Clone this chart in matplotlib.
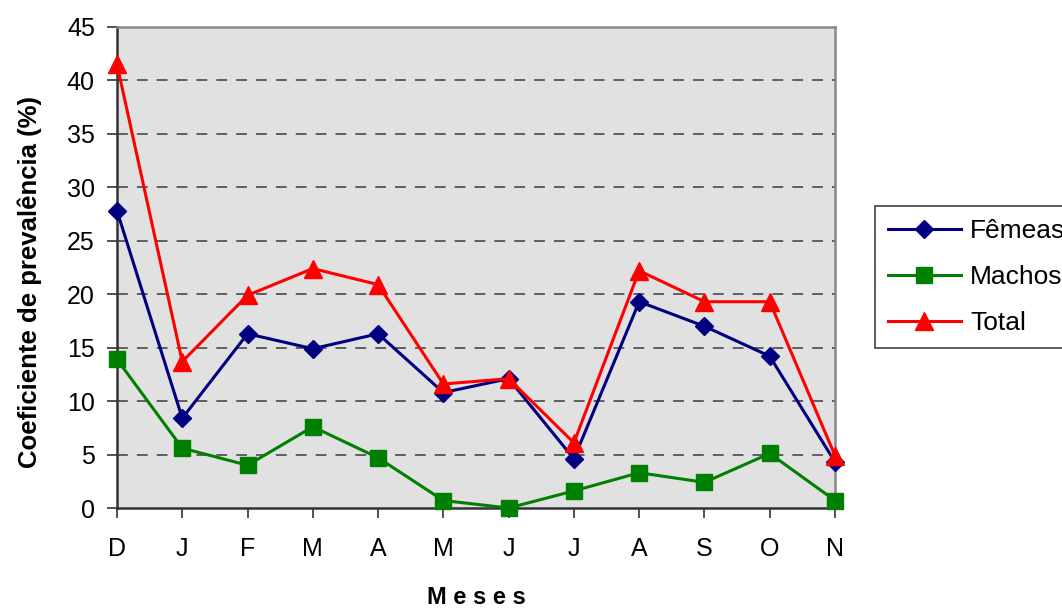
import numpy as np
import matplotlib.pyplot as plt

plt.rcParams['font.family'] = ['Liberation Sans', 'DejaVu Sans']

#%% Data

meses = ['D', 'J', 'F', 'M', 'A', 'M', 'J', 'J', 'A', 'S', 'O', 'N']
femeas = [27.8, 8.4, 16.3, 14.9, 16.3, 10.8, 12.1, 4.6, 19.3, 17.0, 14.2, 4.3]
machos = [13.9, 5.6, 4.0, 7.6, 4.7, 0.7, 0.0, 1.6, 3.3, 2.4, 5.1, 0.7]
total = [41.5, 13.7, 19.9, 22.4, 20.9, 11.6, 12.1, 6.1, 22.2, 19.3, 19.3, 4.9]

#%% Plot

x = np.arange(len(meses))

fig = plt.figure(figsize=(10.62, 6.10), dpi=100)
ax = fig.add_axes([117/1062, 1-508/610, (835-117)/1062, (508-27)/610])
ax.set_facecolor('#e1e1e1')

ax.plot(x, femeas, color='#000080', marker='D', markersize=9, lw=2.2, label='Fêmeas', clip_on=False, zorder=3)
ax.plot(x, machos, color='#008000', marker='s', markersize=11.5, lw=2.2, label='Machos', clip_on=False, zorder=3)
ax.plot(x, total, color='#ff0000', marker='^', markersize=12.5, lw=2.2, label='Total', clip_on=False, zorder=4)

ax.set_xlim(0, 11)
ax.set_ylim(0, 45)
ax.set_yticks(np.arange(0, 46, 5))
ax.set_xticks(x)
ax.set_xticklabels(meses)
ax.tick_params(axis='both', labelsize=18, direction='out', length=7, width=1.2, color='#333333')
ax.tick_params(axis='x', pad=14)
ax.tick_params(axis='y', pad=9)

for yv in range(5, 45, 5):
    ax.axhline(yv, color='#555555', lw=1.3, ls=(0, (6, 5)), zorder=1)

for s in ['top', 'right']:
    ax.spines[s].set_color('#888888')
    ax.spines[s].set_linewidth(1.8)
for s in ['left', 'bottom']:
    ax.spines[s].set_color('#333333')
    ax.spines[s].set_linewidth(1.8)

fig.text(30/1062, 1-282/610, 'Coeficiente de prevalência (%)', rotation=90, ha='center', va='center',
         fontsize=18.5, fontweight='bold')
fig.text(476/1062, 1-598/610, 'M e s e s', ha='center', va='center', fontsize=17, fontweight='bold')

leg = fig.legend(loc='upper left', bbox_to_anchor=(875/1062, 1-206/610), fontsize=19,
                 frameon=True, fancybox=False, edgecolor='#222222', borderpad=0.5,
                 borderaxespad=0, labelspacing=0.83, handlelength=2.75, handletextpad=0.35)
leg.get_frame().set_linewidth(1.3)

plt.savefig('out.png', dpi=100)
